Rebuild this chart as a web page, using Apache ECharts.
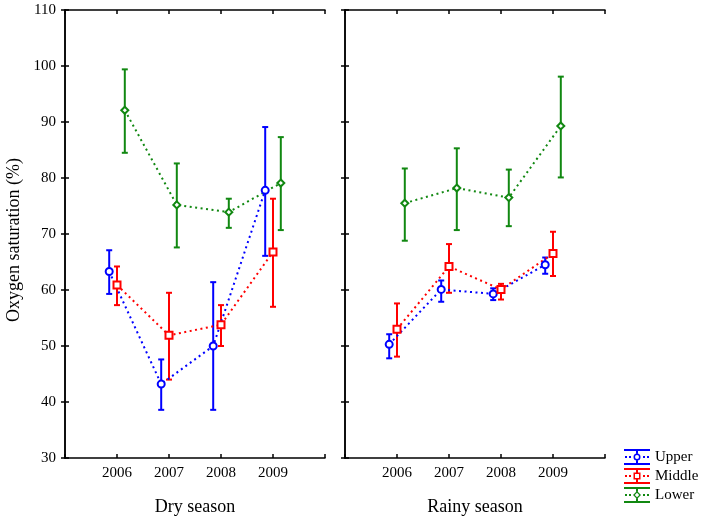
<!DOCTYPE html>
<html>
<head>
<meta charset="utf-8">
<script src="https://cdn.jsdelivr.net/npm/echarts@6/dist/echarts.min.js"></script>
<style>
html,body{margin:0;padding:0;background:#fff;}
#chart{width:702px;height:531px;}
</style>
</head>
<body>
<div id="chart"></div>
<script>
// ---- data ----
var years = ['2006', '2007', '2008', '2009'];
var yTicks = [30, 40, 50, 60, 70, 80, 90, 100, 110];
var panelTitles = ['Dry season', 'Rainy season'];
var groupNames = ['Upper', 'Middle', 'Lower'];

var dryUpperMean = [63.3, 43.2, 50.0, 77.8];
var dryUpperLow  = [59.3, 38.6, 38.6, 66.1];
var dryUpperHigh = [67.1, 47.6, 61.4, 89.1];

var dryMiddleMean = [60.9, 51.9, 53.8, 66.8];
var dryMiddleLow  = [57.3, 44.0, 50.0, 57.0];
var dryMiddleHigh = [64.2, 59.5, 57.3, 76.3];

var dryLowerMean = [92.1, 75.2, 73.9, 79.1];
var dryLowerLow  = [84.5, 67.6, 71.1, 70.7];
var dryLowerHigh = [99.4, 82.6, 76.3, 87.3];

var rainyUpperMean = [50.3, 60.1, 59.3, 64.5];
var rainyUpperLow  = [47.8, 57.9, 58.2, 62.9];
var rainyUpperHigh = [52.1, 61.7, 60.3, 65.8];

var rainyMiddleMean = [53.0, 64.2, 60.1, 66.5];
var rainyMiddleLow  = [48.1, 59.5, 58.3, 62.5];
var rainyMiddleHigh = [57.6, 68.2, 61.1, 70.4];

var rainyLowerMean = [75.5, 78.2, 76.5, 89.3];
var rainyLowerLow  = [68.8, 70.7, 71.4, 80.1];
var rainyLowerHigh = [81.7, 85.3, 81.5, 98.1];

// ---- styling ----
var FONT = 'Liberation Serif';
var colors = {Upper: '#0000ff', Middle: '#ff0000', Lower: '#118811'};
var symbols = {Upper: 'emptyCircle', Middle: 'emptyRect', Lower: 'emptyDiamond'};
var offsets = {Upper: -0.15, Middle: 0, Lower: 0.15};

var panels = [
  {Upper: [dryUpperMean, dryUpperLow, dryUpperHigh],
   Middle: [dryMiddleMean, dryMiddleLow, dryMiddleHigh],
   Lower: [dryLowerMean, dryLowerLow, dryLowerHigh]},
  {Upper: [rainyUpperMean, rainyUpperLow, rainyUpperHigh],
   Middle: [rainyMiddleMean, rainyMiddleLow, rainyMiddleHigh],
   Lower: [rainyLowerMean, rainyLowerLow, rainyLowerHigh]}
];

var icons = {
  Upper: 'path://M0 0H26V2H0Z M0 14H26V16H0Z M12 2H14V4.5H12Z M12 11.5H14V14H12Z M1 7H3V9H1Z M5 7H7V9H5Z M19 7H21V9H19Z M23 7H25V9H23Z M9.5 8A3.5 3.5 0 1 1 16.5 8A3.5 3.5 0 1 1 9.5 8Z M11 8A2 2 0 1 0 15 8A2 2 0 1 0 11 8Z',
  Middle: 'path://M0 0H26V2H0Z M0 14H26V16H0Z M12 2H14V4.5H12Z M12 11.5H14V14H12Z M1 7H3V9H1Z M5 7H7V9H5Z M19 7H21V9H19Z M23 7H25V9H23Z M9.5 4.5H16.5V11.5H9.5Z M11 6V10H15V6Z',
  Lower: 'path://M0 0H26V2H0Z M0 14H26V16H0Z M12 2H14V4.5H12Z M12 11.5H14V14H12Z M1 7H3V9H1Z M5 7H7V9H5Z M19 7H21V9H19Z M23 7H25V9H23Z M13 4L17 8L13 12L9 8Z M13 5.8L10.8 8L13 10.2L15.2 8Z'
};

function errRender(params, api) {
  var x = api.value(0), lo = api.value(1), hi = api.value(2);
  var pLo = api.coord([x, lo]), pHi = api.coord([x, hi]);
  var hw = 3;
  var style = {stroke: api.visual('color'), lineWidth: 2};
  return {type: 'group', children: [
    {type: 'line', shape: {x1: pLo[0], y1: pLo[1], x2: pHi[0], y2: pHi[1]}, style: style},
    {type: 'line', shape: {x1: pHi[0] - hw, y1: pHi[1], x2: pHi[0] + hw, y2: pHi[1]}, style: style},
    {type: 'line', shape: {x1: pLo[0] - hw, y1: pLo[1], x2: pLo[0] + hw, y2: pLo[1]}, style: style}
  ]};
}

var grids = [
  {left: 65, top: 10, width: 260, height: 448},
  {left: 345, top: 10, width: 260, height: 448}
];

var axisLine = {show: true, lineStyle: {color: '#000', width: 1.5}};
var axisTick = {show: true, inside: true, length: 4, lineStyle: {color: '#000', width: 1.5}};

var xAxes = [], yAxes = [], series = [];
for (var g = 0; g < 2; g++) {
  xAxes.push({
    type: 'value', gridIndex: g, min: 0, max: 5, interval: 1, position: 'bottom',
    axisLine: axisLine, axisTick: axisTick, splitLine: {show: false},
    axisLabel: {
      color: '#000', fontFamily: FONT, fontSize: 15, margin: 8,
      formatter: function (v) { return (v >= 1 && v <= 4) ? years[v - 1] : ''; }
    },
    name: panelTitles[g], nameLocation: 'middle', nameGap: 40,
    nameTextStyle: {color: '#000', fontFamily: FONT, fontSize: 18}
  });
  xAxes.push({
    type: 'value', gridIndex: g, min: 0, max: 5, interval: 1, position: 'top',
    axisLine: axisLine, axisTick: axisTick, splitLine: {show: false},
    axisLabel: {show: false}
  });
  yAxes.push({
    type: 'value', gridIndex: g, min: 30, max: 110, interval: 10, position: 'left',
    axisLine: axisLine, axisTick: axisTick, splitLine: {show: false},
    axisLabel: {
      show: g === 0, color: '#000', fontFamily: FONT, fontSize: 15, margin: 9,
      formatter: function (v) { return yTicks.indexOf(v) >= 0 ? String(v) : ''; }
    }
  });
  yAxes.push({
    type: 'value', gridIndex: g, min: 30, max: 110, interval: 10, position: 'right',
    axisLine: axisLine, axisTick: axisTick, splitLine: {show: false},
    axisLabel: {show: false}
  });

  groupNames.forEach(function (name) {
    var d = panels[g][name];
    var off = offsets[name];
    var lineData = d[0].map(function (m, i) { return [i + 1 + off, m]; });
    var errData = d[0].map(function (m, i) { return [i + 1 + off, d[1][i], d[2][i]]; });
    series.push({
      name: name, type: 'custom', xAxisIndex: g * 2, yAxisIndex: g * 2,
      renderItem: errRender, data: errData, z: 2,
      itemStyle: {color: colors[name]}, encode: {x: 0, y: [1, 2]}, silent: true
    });
    series.push({
      name: name, type: 'line', xAxisIndex: g * 2, yAxisIndex: g * 2,
      data: lineData, z: 3, symbol: symbols[name], symbolSize: 7,
      showAllSymbol: true,
      itemStyle: {color: colors[name], borderWidth: 1.6},
      lineStyle: {color: colors[name], width: 2, type: [2, 3.5]},
      animation: false, silent: true
    });
  });
}

var chart = echarts.init(document.getElementById('chart'));
chart.setOption({
  backgroundColor: '#fff',
  animation: false,
  grid: grids,
  xAxis: xAxes,
  yAxis: yAxes,
  legend: {
    orient: 'vertical', left: 619, top: 444,
    itemWidth: 26, itemHeight: 16, itemGap: 3,
    selectedMode: false,
    textStyle: {color: '#000', fontFamily: FONT, fontSize: 15},
    data: groupNames.map(function (n) { return {name: n, icon: icons[n]}; })
  },
  graphic: [{
    type: 'text', x: 14, y: 240, rotation: Math.PI / 2,
    style: {text: 'Oxygen saturation (%)', fill: '#000', font: '18px "Liberation Serif"',
            textAlign: 'center', textVerticalAlign: 'middle'}
  }],
  series: series
});
</script>
</body>
</html>
